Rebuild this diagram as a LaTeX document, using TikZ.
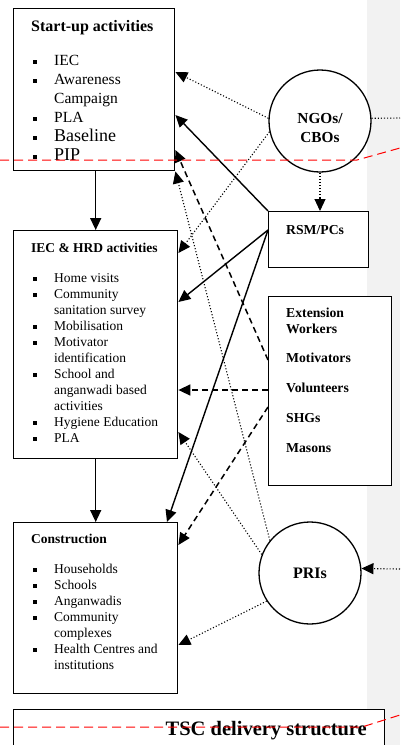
\documentclass[tikz,border=0pt]{standalone}
\usepackage{fontspec}
\setmainfont{Liberation Serif}
\usetikzlibrary{arrows.meta}

\newcommand{\sqb}{\makebox[21pt][l]{\rule[1.5pt]{4pt}{4pt}}}
\newcommand{\cont}{\hspace*{21pt}}

\begin{document}
\begin{tikzpicture}[x=1pt, y=-1pt,
    actbox/.style={draw, line width=1.4pt, fill=white, inner sep=0pt, anchor=north west},
    org/.style={draw, circle, line width=1.3pt, fill=white, minimum size=102pt, inner sep=0pt},
    ttl/.style={anchor=west, inner sep=0pt, font=\fontsize{13.5}{16}\selectfont\bfseries},
    items/.style={anchor=north west, inner sep=0pt, align=left, font=\fontsize{13.5}{16}\selectfont},
    lbl/.style={inner sep=0pt, font=\fontsize{13.7}{16}\selectfont\bfseries},
    tip/.style={-{Triangle[length=12pt, width=11pt]}},
    flow/.style={tip, line width=1.4pt},
    dotlink/.style={tip, line width=1.1pt, dotted},
    dashlink/.style={tip, line width=1.5pt, dash pattern=on 6pt off 4pt},
    redline/.style={red, line width=1pt, dash pattern=on 9pt off 5pt}
]
    \path[use as bounding box] (0,0) rectangle (400,745);
    \clip (0,0) rectangle (400,745);
    \fill[black!5] (367,0) rectangle (400,745);

    % activity boxes
    \node[actbox, minimum width=161pt, minimum height=162pt] (su) at (13,8) {};
    \node[actbox, minimum width=164pt, minimum height=228pt] (iec) at (13,230) {};
    \node[actbox, minimum width=164pt, minimum height=171pt] (con) at (13,522) {};
    \node[actbox, minimum width=371pt, minimum height=60pt] (tsc) at (13,709) {};

    \node[ttl, font=\fontsize{16}{19}\selectfont\bfseries] (sutitle) at (31,28) {Start-up activities};
    \node[items, font=\fontsize{15.5}{19}\selectfont] (sulist) at (33,55)
        {\sqb IEC\\ \sqb Awareness\\ \cont Campaign\\ \sqb PLA\\
         {\fontsize{18}{20}\selectfont\sqb Baseline}\\ {\fontsize{18}{20}\selectfont\sqb PIP}};

    \node[ttl] (iectitle) at (31,248) {IEC \& HRD activities};
    \node[items] (ieclist) at (33,273)
        {\sqb Home visits\\ \sqb Community\\ \cont sanitation survey\\ \sqb Mobilisation\\
         \sqb Motivator\\ \cont identification\\ \sqb School and\\ \cont anganwadi based\\
         \cont activities\\ \sqb Hygiene Education\\ \sqb PLA};

    \node[ttl] (contitle) at (31,539) {Construction};
    \node[items] (conlist) at (33,564)
        {\sqb Households\\ \sqb Schools\\ \sqb Anganwadis\\ \sqb Community\\
         \cont complexes\\ \sqb Health Centres and\\ \cont institutions};

    \node[anchor=east, inner sep=0pt, font=\fontsize{20.5}{24}\selectfont\bfseries] (tsclbl) at (367,731) {TSC delivery structure};

    % actors
    \node[org] (ngo) at (320,121) {};
    \node[lbl, align=center, font=\fontsize{15.3}{18.4}\selectfont\bfseries] (ngolbl) at (320,128) {NGOs/\\CBOs};
    \node[actbox, minimum width=100pt, minimum height=56pt] (rsm) at (268,211) {};
    \node[lbl, anchor=west] (rsmlbl) at (286,230) {RSM/PCs};
    \node[actbox, minimum width=123pt, minimum height=189pt] (ext) at (268,296) {};
    \node[lbl, anchor=north west, align=left] (extlbl) at (286,308)
        {Extension\\Workers\\[13pt]Motivators\\[14pt]Volunteers\\[14pt]SHGs\\[14pt]Masons};
    \node[org, font=\fontsize{16}{19}\selectfont\bfseries] (pri) at (310,573) {PRIs};

    \coordinate (ngoout) at (400,118);
    \coordinate (priin) at (400,569);

    % connectors
    \draw[flow] (su.south -| iec.north) -- (iec.north);
    \draw[flow] (iec.south) -- (con.north);

    \draw[dotlink] (ngo.177) -- (su.east |- 0,72);
    \draw[dotlink] (ngo.192) -- (iec.east |- 0,253);
    \draw[dotlink] (ngo.south) -- (ngo.south |- rsm.north);
    \draw[line width=1.1pt, dotted] (ngo.3) -- (ngoout);

    \draw[flow] (rsm.north west) -- (su.east |- 0,115);
    \draw[flow] (rsm.west |- 0,230) -- (iec.east |- 0,302);
    \draw[flow] (rsm.west |- 0,230) -- (con.north -| 167,0);

    \draw[dashlink] (ext.west |- 0,360) -- (su.east |- 0,150);
    \draw[dashlink] (ext.west |- 0,390) -- (iec.east |- 0,390);
    \draw[dashlink] (ext.west |- 0,407) -- (con.east |- 0,545);

    \draw[dotlink] (pri.141) -- (su.south east);
    \draw[dotlink] (pri.159) -- (iec.east |- 0,432);
    \draw[dotlink] (pri.213) -- (con.east |- 0,645);
    \draw[dotlink] (priin) -- (pri.5);

    % red marks
    \draw[redline] (0,160) -- (357,160) -- (400,148);
    \draw[redline] (0,727) -- (362,727) -- (400,715);
\end{tikzpicture}
\end{document}
